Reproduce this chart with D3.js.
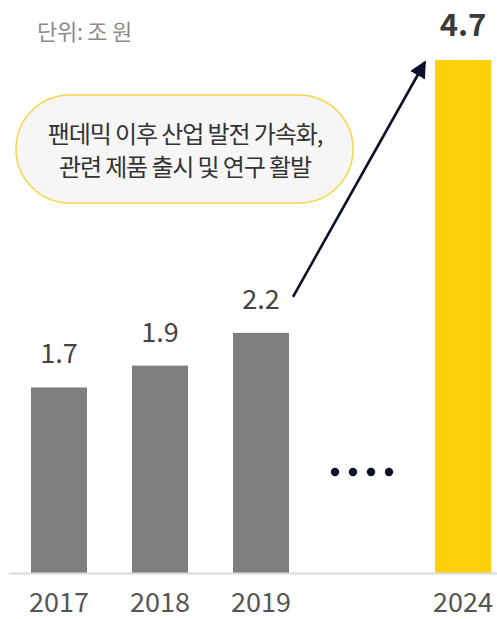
<!DOCTYPE html>
<html>
<head>
<meta charset="utf-8">
<script src="https://cdn.jsdelivr.net/npm/d3@7"></script>
<style>
  html, body { margin: 0; padding: 0; background: #fff; }
  svg { display: block; }
  text { font-family: "Noto Sans CJK KR", "Noto Sans", sans-serif; }
</style>
</head>
<body>
<svg id="chart" width="497" height="619"></svg>
<script>
const categories = ["2017", "2018", "2019", "…", "2024"];
const values = [1.7, 1.9, 2.2, null, 4.7];
const valueLabels = ["1.7", "1.9", "2.2", "", "4.7"];
const unitLabel = "단위: 조 원";
const calloutLines = ["팬데믹 이후 산업 발전 가속화,", "관련 제품 출시 및 연구 활발"];
const gapDots = [0, 1, 2, 3];

const svg = d3.select("#chart");
const baseY = 573, topY = 60;

const x = d3.scaleBand().domain(categories).range([31, 491]).paddingInner(45 / 101).paddingOuter(0);
const y = d3.scaleLinear().domain([0, 4.7]).range([baseY, topY]);

// Unit label
svg.append("text").attr("x", 37).attr("y", 40)
  .attr("font-size", 22).attr("fill", "#8a8a8a").attr("letter-spacing", -0.3).text(unitLabel);

// Bars
const data = categories.map((c, i) => ({ c, v: values[i], label: valueLabels[i], hi: c === "2024" }));
svg.selectAll("rect.bar").data(data.filter(d => d.v != null)).join("rect")
  .attr("class", "bar")
  .attr("x", d => x(d.c)).attr("width", x.bandwidth())
  .attr("y", d => y(d.v)).attr("height", d => y(0) - y(d.v))
  .attr("fill", d => d.hi ? "#fcd00a" : "#7f7f7f");

// Baseline
svg.append("line").attr("x1", 9).attr("x2", 497).attr("y1", baseY + 0.5).attr("y2", baseY + 0.5)
  .attr("stroke", "#d9d9d9").attr("stroke-width", 2);

// Value labels
svg.selectAll("text.val").data(data.filter(d => d.v != null)).join("text")
  .attr("class", "val")
  .attr("x", d => x(d.c) + x.bandwidth() / 2)
  .attr("y", d => y(d.v) - 24)
  .attr("text-anchor", "middle")
  .attr("font-size", d => d.hi ? 31 : 27)
  .attr("font-weight", d => d.hi ? "bold" : "normal")
  .attr("fill", d => d.hi ? "#3a3a3a" : "#444")
  .text(d => d.label);

// Category labels
svg.selectAll("text.cat").data(data.filter(d => d.v != null)).join("text")
  .attr("class", "cat")
  .attr("x", d => x(d.c) + x.bandwidth() / 2)
  .attr("y", 612)
  .attr("text-anchor", "middle")
  .attr("font-size", 27)
  .attr("fill", "#555")
  .text(d => d.c);

// Gap dots
const gapC = x("…") + x.bandwidth() / 2;
svg.selectAll("circle.dot").data(gapDots).join("circle")
  .attr("cx", d => gapC - 27 + d * 18).attr("cy", 472).attr("r", 4.2)
  .attr("fill", "#0b1028");

// Callout pill
svg.append("rect").attr("x", 16).attr("y", 95).attr("width", 337).attr("height", 108)
  .attr("rx", 54).attr("ry", 54)
  .attr("fill", "#f6f6f6").attr("stroke", "#f8d54a").attr("stroke-width", 1.5);
svg.selectAll("text.call").data(calloutLines).join("text")
  .attr("class", "call")
  .attr("x", 185).attr("y", (d, i) => 143 + i * 33)
  .attr("text-anchor", "middle").attr("font-size", 24).attr("fill", "#333")
  .attr("letter-spacing", -1.1)
  .text(d => d);

// Arrow
const defs = svg.append("defs");
defs.append("marker").attr("id", "ah").attr("viewBox", "0 0 10 10")
  .attr("refX", 9).attr("refY", 5).attr("markerWidth", 6.5).attr("markerHeight", 6.5)
  .attr("markerUnits", "strokeWidth").attr("orient", "auto")
  .append("path").attr("d", "M0,0 L10,5 L0,10 Z").attr("fill", "#0b1028");
const x2019 = x("2019") + x.bandwidth() + 4;
svg.append("line")
  .attr("x1", x2019).attr("y1", y(2.2) - 36)
  .attr("x2", x("2024") - 10).attr("y2", y(4.7) + 2)
  .attr("stroke", "#0b1028").attr("stroke-width", 2.6)
  .attr("marker-end", "url(#ah)");
</script>
</body>
</html>
